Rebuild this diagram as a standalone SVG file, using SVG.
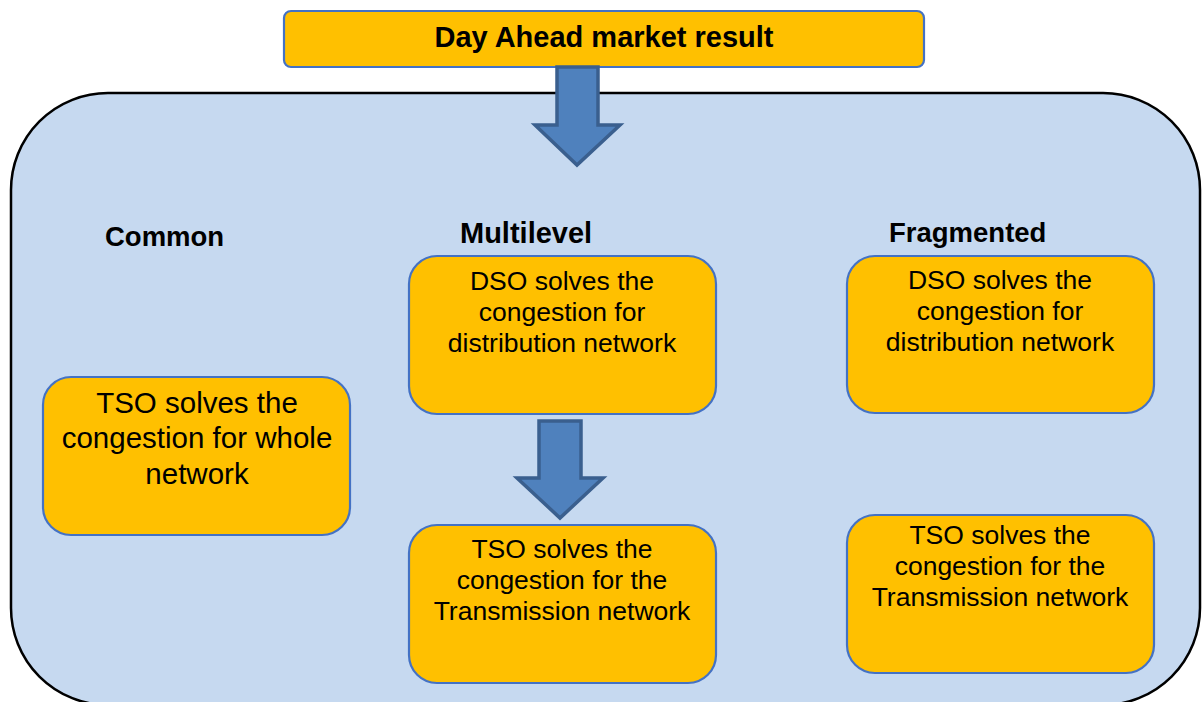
<svg xmlns="http://www.w3.org/2000/svg" width="1202" height="702" viewBox="0 0 1202 702">
<style>
.node{fill:#FFC000;stroke:#4472C4;stroke-width:2.2}
.txt{font-family:"Liberation Sans",Arial,sans-serif;font-size:26.5px;fill:#000;text-anchor:middle}
.big{font-size:29.5px}
.lbl{font-family:"Liberation Sans",Arial,sans-serif;font-size:27.5px;font-weight:bold;fill:#000}
.arrow{fill:#4F81BD;stroke:#3A5F8E;stroke-width:3.5;stroke-linejoin:miter}
</style>
<rect width="1202" height="702" fill="#FFFFFF"/>
<g id="container">
<rect x="11" y="93" width="1189" height="612" rx="97" ry="97" fill="#C6D9F0" stroke="#000" stroke-width="2.5"/>
</g>
<g id="top">
<rect class="node" x="284" y="11" width="640" height="56" rx="7"/>
<text class="lbl" x="604" y="47" text-anchor="middle" font-size="29px" style="font-size:29px">Day Ahead market result</text>
</g>
<g id="connectors">
<polygon class="arrow" points="557,67 598,67 598,125 620,125 577,165 535,125 557,125"/>
<polygon class="arrow" points="539,421 581,421 581,478 603,478 560,518 517,478 539,478"/>
</g>
<g id="label-common"><text class="lbl" x="105" y="246">Common</text></g>
<g id="label-multilevel"><text class="lbl" x="460" y="243" style="font-size:29px">Multilevel</text></g>
<g id="label-fragmented"><text class="lbl" x="889" y="242">Fragmented</text></g>
<g id="common-tso">
<rect class="node" x="43" y="377" width="307" height="158" rx="28"/>
<text class="txt big" x="197" y="413">TSO solves the</text>
<text class="txt big" x="197" y="448">congestion for whole</text>
<text class="txt big" x="197" y="484">network</text>
</g>
<g id="multi-dso">
<rect class="node" x="409" y="256" width="307" height="158" rx="28"/>
<text class="txt" x="562" y="290">DSO solves the</text>
<text class="txt" x="562" y="321">congestion for</text>
<text class="txt" x="562" y="352">distribution network</text>
</g>
<g id="multi-tso">
<rect class="node" x="409" y="525" width="307" height="158" rx="28"/>
<text class="txt" x="562" y="558">TSO solves the</text>
<text class="txt" x="562" y="589">congestion for the</text>
<text class="txt" x="562" y="620">Transmission network</text>
</g>
<g id="frag-dso">
<rect class="node" x="847" y="256" width="307" height="157" rx="28"/>
<text class="txt" x="1000" y="289">DSO solves the</text>
<text class="txt" x="1000" y="320">congestion for</text>
<text class="txt" x="1000" y="351">distribution network</text>
</g>
<g id="frag-tso">
<rect class="node" x="847" y="515" width="307" height="158" rx="28"/>
<text class="txt" x="1000" y="544">TSO solves the</text>
<text class="txt" x="1000" y="575">congestion for the</text>
<text class="txt" x="1000" y="606">Transmission network</text>
</g>
</svg>
